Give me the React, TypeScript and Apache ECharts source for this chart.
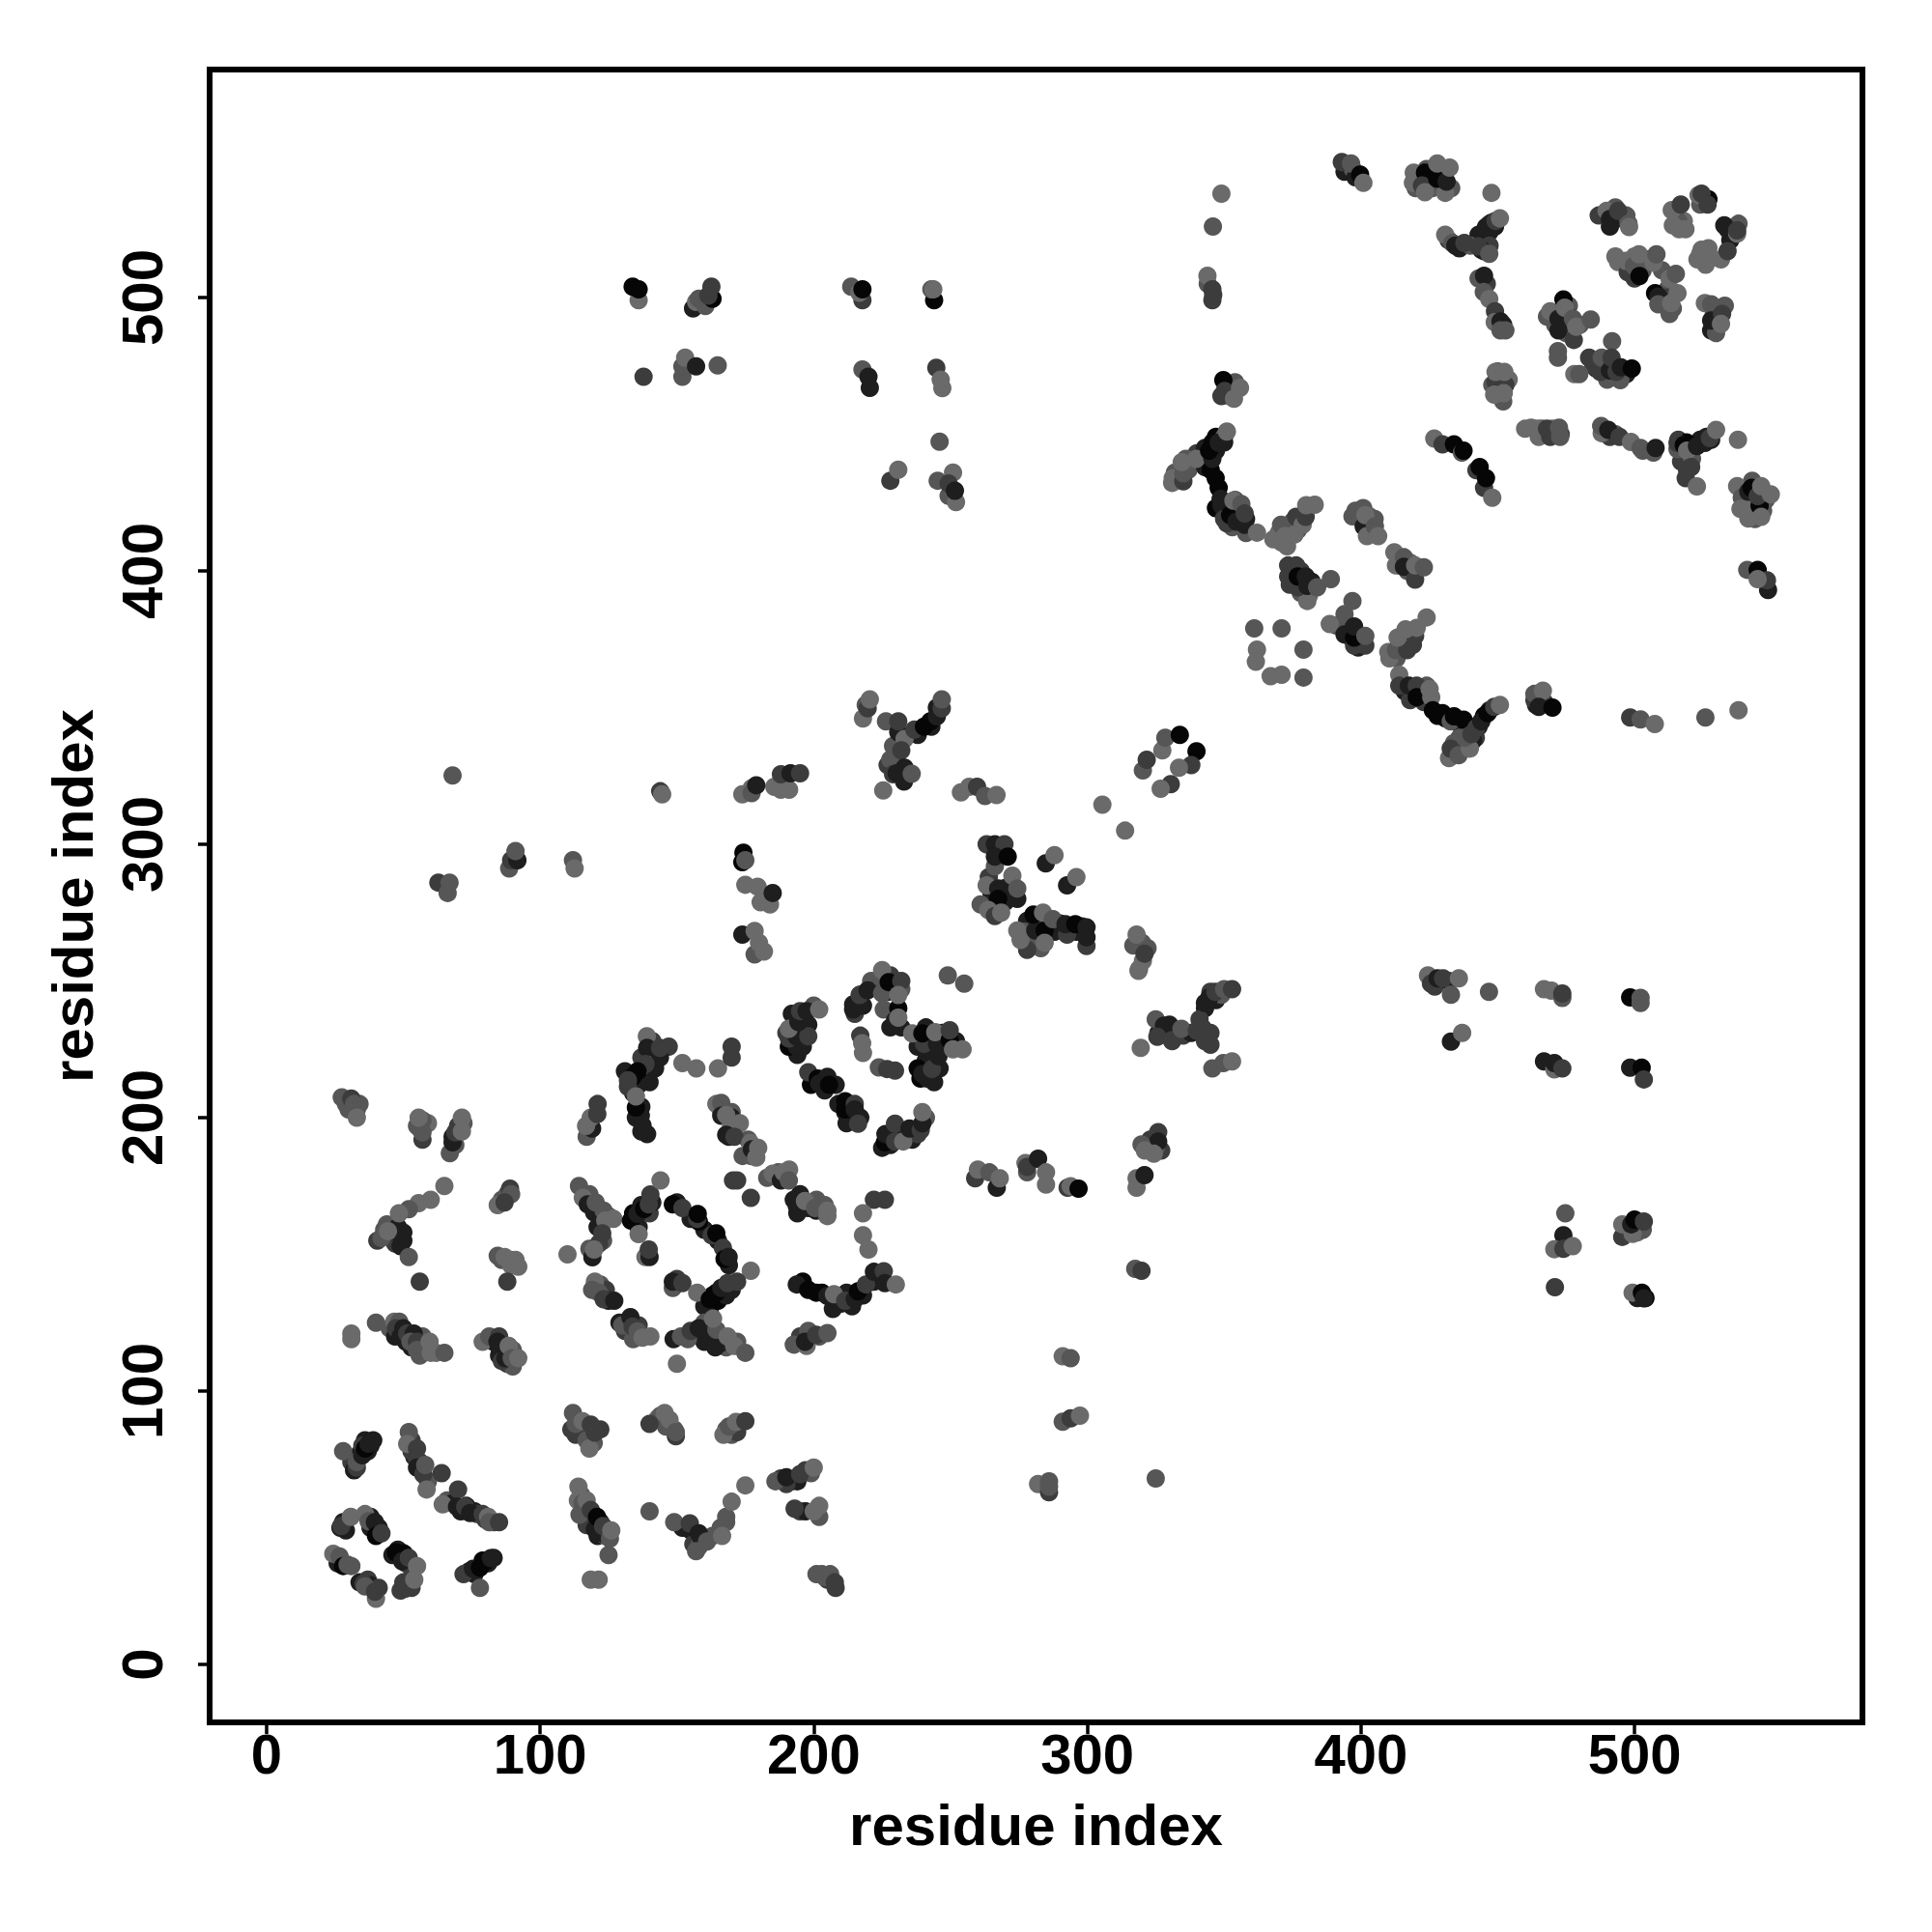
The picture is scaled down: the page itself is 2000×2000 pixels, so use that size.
import React, { useEffect, useRef } from "react";
import * as echarts from "echarts";

// Each contact: [residue i, residue j, shade index]
type P = [number, number, number];
const shades = ["#6a6a6a", "#565656", "#3c3c3c", "#1e1e1e", "#060606"];
const tickValues = [0, 100, 200, 300, 400, 500];
const axisTitle = "residue index";

const bottomLeft: P[] = [
  [31,121,0],[31,119,0],[40,125,1],[46.7,125.4,0],[48.5,125.4,1],[47.3,123,2],[50,123,3],[49,120,3],[51.4,121,2],[53.8,121,3],[52.6,118,1],[55,118,2],[55,115,1],[59.6,118,0],[60,114,0],[65,114,1],
  [79,118,0],[81.4,120,1],[85,120,2],[84.4,118,3],[86,111,2],[87.3,112,3],[88.5,116.5,0],[89.6,112,1],[92,112,0],
  [33,72,2],[33,74,1],[28,78,1],[35,80,2],[35,76.5,3],[36,79,4],[37.3,80.7,3],[39,82,3],
  [52,85,1],[51.4,80.7,0],[55,79,2],[55,75,2],[55,72,3],[57.3,69.5,2],[58,73,1],[64,70,2],[58.5,64,0],
  [70,64,2],[64.4,58.6,0],[69.6,57.7,3],[72.6,57.7,2],[74.4,55.4,3],[79,55,2],[81,54,0],[81.4,52,1],[85,52,2],
  [27,50,3],[27.3,50.6,2],[30.8,54,0],[36,55,0],[37.3,52.4,1],[39.6,52,3],[40,47,4],[42,48,2],
  [47.3,41,4],[50.2,40.6,4],[49.6,37.7,3],[52,39,2],[55,36,0],[50.8,27.7,2],[49,27,2],[54,31,0],
  [24.4,40.5,0],[26.7,39.5,1],[28,36,4],[29.6,36.5,1],[35.5,29.5,2],[36,28.5,1],[40,24,0],[39.6,26.6,2],
  [72,33,2],[75.5,35,3],[78,35.4,4],[80,37.7,4],[82,38.9,3],[78,28,1],
  [111.4,86,2],[112,92,1],[113,88,1],[115.5,89,0],[119.6,81,1],[118,79,0],[120,84.8,2],[118.5,87.7,2],
  [140,88,2],[145.5,92,0],[147.3,89.5,0],[149.6,83.5,2],[149.6,85,1],
  [114,65,0],[113.8,60,0],[115.5,59,1],[114.4,54.8,1],[117,60,0],[118.5,56.5,2],[120,49.5,3],[120.8,54,4],[123,50.6,2],[125.5,46,1],[126,49,0],[125,40,1],
  [118.5,31,0],[121.4,31,0],[140,56,1],[149,52,1],
  [154.7,51.6,2],[158,48,3],[157,41.4,1],[161,45,1],[166.5,47,0],[168,54,1],[170,59.5,0],[175,65.5,0],
  [186,67,1],[190,68.5,3],[195,69.6,2],[200,72,0],[193,57,2],[200,56,0],
  [201,33,1],[204,32,1],[207.7,30,2],
  [167,84,0],[169,87,1],[171.6,88.7,0],[175,89,2],
];

const lowerMiddle: P[] = [
  [27.5,207.4,1],[31,207,2],[32,205,1],[33,200,0],
  [57,192,2],[57,194.6,1],[55.6,200,0],[67,187,1],[68,191,3],[69,194.6,2],[71.4,195,0],[71.4,200,0],
  [65,175,0],[60,170,0],[55.6,168.7,0],[52,166.5,1],[48.4,165,0],[40.5,155,2],[46.6,158.5,3],[42,156,1],[44.4,158.5,0],[50,155,3],[52,149,1],[56,140,2],
  [89,174,2],[89.4,172,1],[84.5,168,0],[87,169,2],[84.5,149.5,1],[87,149,0],[89.4,146,0],[92,145.5,0],[88,140,2],
  [114.2,175,1],[115.6,170.7,0],[117.4,168.3,3],[119.7,165.4,3],[120.3,169,1],[123.2,166,1],[123.8,162.4,0],[126.8,163,0],[122.7,157.7,2],[121.5,154,2],[119.1,148.9,3],[119.7,151.8,0],[110,150,0],
  [133.2,162.4,4],[135.6,164.8,3],[138,166.6,4],[139.7,168.3,2],[140.3,171.9,2],[144,177,0],[136,157.4,0],[138.5,149,0],[140,149,3],[139.7,151.8,2],
  [148.5,168.3,4],[152,167,2],[157.4,163,2],[157.6,164.8,4],[162.7,157,2],[164.4,157.7,4],[166.8,152.4,2],[167.4,148.3,4],[168.9,149,3],[177,144,0],
  [148.5,137.7,1],[148.5,140,3],[152,139.5,2],[157.4,136,0],[162,133.6,4],[164.4,136,4],[166.2,137.7,3],[168.5,139.5,2],[172,140,2],
  [120,140,0],[119,137,1],[121.5,136,1],[123.2,133.6,2],[127.1,133,3],[133,127,3],[133.8,123.6,2],[135.6,121.8,1],[137.4,119.5,0],[140.3,120,0],
  [148.8,119,3],[151.5,120,1],[155,122,2],[158,123,3],[162.7,120,3],[166.2,117.7,3],[164.4,122.4,1],[163.2,126.5,0],[168.5,120,0],[170.9,116.5,0],[175,114,1],[150,110,0],
  [193.8,139,3],[198,137,4],[200.9,136,4],[205,134.8,3],[207.4,135.4,0],[211.5,133,2],[215,133.6,3],[216.2,136.5,4],[219.1,139,2],[222,143.6,3],[225.6,143.8,2],[226,139.5,3],[230,139,0],
  [192.7,117,1],[197.4,116.5,0],[196.8,118,3],[200.9,120.6,2],[205,121.2,1],
  [222,170,2],[226,170,2],[218,165,0],[218,157,0],[220,151.8,0],[170.5,177,2],[172,177,2],[177,170.7,2],
  [164.4,205,0],[166.2,205.4,1],[166.2,200.7,3],[168,201,0],[169.7,197.8,0],[168,193.7,3],[171,193,2],
  [176.8,190.7,0],[177.4,188.4,3],[179,185.4,0],[179.7,189,0],[185,179.5,0],[188,177,3],[189,180,0],[190.9,177,1],
  [192.7,170,3],[193.8,167.8,3],[196.8,169.5,0],[200.9,166,3],[200.5,167,1],[205,164,0],[205,166,0],
  [117,193,1],[119,196,3],[116.8,197,0],[118.5,200,0],[120.9,201.3,2],[121,205,2],
  [139,229.8,0],[139.1,225.5,3],[143.8,222,3],[143.8,225.5,2],[138.5,219.6,2],[135.6,217,4],[133.8,214.9,4],[132.1,211.3,2],[132.1,213.7,2],
  [139.1,194,3],[137.4,197.2,3],[136.8,200.7,3],[135,203.7,4],[135,207.8,0],
  [152,220,0],[157.1,218,0],[165,218,0],[170,222,2],[170,226,2],
];

const blossom: P[] = [
  [190.9,226,4],[193.8,226,3],[190.9,229,2],[193.8,229.6,3],[198,229.8,2],[190.9,232.5,0],[194.4,235,3],[195,239,2],[197.4,239,3],[202,239.6,0],
  [198,216.6,2],[201.5,214.3,4],[202,212.5,3],[205,214.9,3],[205.6,212,4],
  [211.5,202,3],[211.5,203,4],[211.5,206,4],[215,205,2],[215,203,3],[216.2,197.8,2],
  [226,191,4],[226.2,194,3],[229.7,197.8,2],[229.7,191.3,2],[232.7,191.3,0],[235,196,3],[239.1,195.4,2],[239.7,198,3],[239.7,202,0],
  [214.4,239.6,3],[214.4,241.4,3],[216.8,244.9,2],[219.7,246.6,3],[224.4,251.4,1],[225,254,0],[225,245.5,1],[225.6,239.6,1],[227.4,249.6,4],[232,250,2],
  [229.7,235.5,3],[230.9,240,4],[230.9,236.6,0],[230.9,244.9,0],
  [217,230,2],[217.7,227.2,0],[218,223.7,0],[223.8,218.4,1],[226.8,217.8,2],[229.7,217.2,2],
  [249,252,1],[255,249,1],
  [239,214.3,4],[241.5,214.3,3],[239.7,216,3],[243.2,217.8,2],[245.6,222.5,3],[240.3,227,2],[245,227,3],[236,230.8,0],[239.7,230.8,4],[244.4,231.3,0],[249.7,228.4,4],[249.7,232,2],[250.9,225,0],[254.4,225,0],
];

const centre: P[] = [
  [218,346,0],[219.7,349.7,2],[220.5,353,0],[226.4,345,1],[230.9,341,3],[230.9,345,2],[233.2,338.5,0],[236.8,342,2],[240.3,343,4],[242.6,345,4],[245,346.8,3],[246.8,349.7,2],[246.8,353,1],
  [228,331,1],[232,334.4,2],[229,325.6,2],[230.3,326,3],[233.2,328,3],[235.8,325.8,1],[225.4,319.7,0],
  [185.6,321,0],[188,320,0],[191,320,0],[188,325.6,2],[191.5,326,3],[195,326,2],
  [253.8,319,0],[256.8,321,0],[259.7,321,2],[262.6,317.7,1],[266.8,318,0],
  [305.5,314.5,0],[313.8,305,0],
  [266.2,292,1],[263.2,300,2],[266.2,300,3],[269.7,300,2],[266.2,295.5,3],[270.9,295.5,4],
  [284.8,293,3],[288,296,0],[292.6,285,3],[296,288,0],
  [261,278,1],[263.2,285,0],[267.4,283.8,3],[267.4,280,4],[263.8,276,0],[266.2,273.8,2],[268.5,275,0],[274.4,280,3],[272.6,288.5,0],[274.4,283.8,1],
  [278,261.4,2],[275.6,265,0],[274.4,268.5,0],[281,268.5,3],[284.4,268.5,4],[284.4,264,0],[280.3,274.3,4],[283.8,275,0],[287.4,272.6,1],
  [292.6,267,2],[292,270.8,3],[295.6,270.8,4],[299.7,262.8,2],[299.7,266,3],[299.7,269.6,3],
  [316.8,263,1],[318,267,0],[318.9,254.3,0],[320.3,257.3,0],[320.9,260,2],[318.7,253.7,0],
  [319.5,225.5,0],[325,236,1],[328,233.7,3],[325.6,229.6,2],[331,228,2],[330.9,228.4,2],[334.4,232.5,1],
  [340,231.8,2],[345,231,2],[345,226.7,2],[341,236,2],[343,242,3],[344.6,244,3],[346.8,246,2],[350,247,1],[352.9,247,2],
  [345.7,218,1],[349.7,220,1],[352.9,220.6,0],
  [424.5,252,0],[425.6,249,2],[428,251,3],[430,251,2],[435.8,251,0],[432.9,245,1],[446.8,246,1],[432.9,227.8,3],[437,231,0],
  [466.9,247,0],[469.6,246.5,0],[473.6,243.8,1],[473.6,245.4,2],[498.4,244,4],[502.2,242,1],[502.2,243.8,1],
  [466.9,220.6,3],[470.7,217.7,0],[470.7,220,3],[473.6,218,2],[498.4,218.3,3],[502.6,218.3,4],[503.4,214,2],
  [259,177.8,2],[260,181,0],[264.2,180,1],[266.9,174.4,3],[268,177.8,0],
  [277.4,183.4,0],[278,180,1],[278,182,2],[282,185,3],[284.9,175.5,0],[284.9,180,0],
  [292.8,174.4,2],[293.9,174.9,0],[296.8,174,4],
  [325.9,194.7,2],[325.9,191.3,3],[319.8,190.2,1],[321,188,0],[324.3,186.8,0],[318,174.4,0],[318,177.8,0],[320.9,179,3],
  [317.5,144.7,1],[319.8,144,2],[291,112.7,0],[293.9,112,1],[291,88.8,1],[293.9,90,2],[297.3,91,0],
  [282,66,0],[286,63,2],[286,65,1],[286,67,1],[325,68,1],
  [474.7,165,1],[474,157,3],[470.7,151.9,0],[474,152,2],[477.4,153,0],[470.9,138,2],
  [495.5,156.4,2],[495.5,161,0],[499.3,157.5,0],[498.8,161,3],[500,162.7,4],[503.4,162,2],
  [499.3,136,0],[502.7,136,4],[503.4,133.9,3],
];

const upperRight: P[] = [
  [393,549.6,2],[396.4,549,1],[399.7,545,4],[400.9,542,0],
  [419,542,0],[419.3,545.7,0],[423.4,545.7,4],[422.3,541,2],[423.4,538.5,0],[430.8,538.3,0],[427.9,543.5,4],[431.3,542.4,3],[427.9,549,0],[432.4,547.5,0],
  [447.7,538.3,0],[349,538,0],[345.9,526,1],[343.9,508,0],[345.7,499,2],[345.7,503,2],
  [349.7,469.8,4],[350.2,465.8,2],[353.6,463,0],[355.8,467,0],
  [445.7,525.8,3],[448,527.5,3],[449.2,528,2],[450.8,529,0],
  [430.8,523,0],[433.4,520,1],[434.5,519,3],[437.8,520,2],[444,517.5,3],[442.8,518.7,2],[446.9,516,1],
  [443,507,1],[445,508,3],[444.9,502,1],[446.9,499.5,0],[449,495,2],[448.9,491,0],[451,491.3,3],[451,488,1],[452.8,488,1],
  [452,462,1],[449.2,469.2,2],[452.8,468,2],[448.7,464.5,0],[452.2,465,0],[449.2,472.8,0],[452.4,472.8,0],
  [465,449,0],[462.2,452.4,0],[464.5,452,0],[469.2,449,2],[468,452,2],[472.8,449,1],[472.4,452.4,1],
  [488,450.4,0],[487.8,453,1],[490.4,451.6,3],[494.5,449,2],[498.7,447.2,0],[502.2,445,1],[506.9,443.3,1],[507.7,445,3],
  [515.7,444.5,1],[515.7,446.8,2],[518,446,4],[519.2,444,0],[522.8,445.7,3],[525.7,446.8,3],[526.3,449,3],[527.5,448.6,2],[529.8,451.6,0],[537.8,448,0],
  [518.7,433.9,2],[519.2,436.8,2],[520.7,438,2],[522.8,430.9,0],
  [537.5,431,0],[539.2,426.8,1],[538.7,422.7,0],[541.6,419.2,0],[541.6,422.7,0],[541.6,429,3],[542.8,430.4,4],[545.7,423.9,4],[545,427.4,2],[546.3,419.8,0],[546.3,431,0],[549.8,428,0],
  [541.2,400.4,1],[545,400.4,4],[548.8,393,3],[548.4,396.6,2],[545,397,0],
  [426.8,448.4,0],[429.8,446.3,2],[434,446.3,4],[436.9,443.3,1],[437.5,444,4],[442.2,436.8,2],[445,430.4,2],[443.4,438,4],[445.7,433.9,4],[448,426.8,0],
  [469.2,495,0],[472.2,488,3],[472.2,492.2,3],[474,499.3,4],[474.5,496.3,0],[477.5,492.2,1],[477.8,484.5,2],[478.7,489.3,0],[484,492,1],[491.8,484,1],
  [472,480.4,1],[472,478,1],[478,472,0],[479.8,472,1],
  [483.4,478,2],[487.5,472.8,2],[488,478,1],[494.8,469.8,1],[491,473.3,3],[491.6,478,2],[493.4,472.8,2],[495,474.5,3],[499,474,4],
  [486.9,530,2],[489.8,531.7,0],[491,528.7,3],[494,531.7,2],[497.8,527,1],[498,525.8,0],
  [494,513,0],[497.5,509.3,2],[496.9,513.4,0],[499.8,511.6,1],[501.8,507.9,4],[501.6,515.8,0],[506.9,512.8,0],[508,515.8,1],
  [512.8,506.9,0],[515.1,508.7,1],[507.5,501.6,4],[508.7,500.4,3],[508.7,497.5,1],[512.8,494,1],[513.4,498,0],[515.7,501.6,0],
  [513.6,532,0],[516.9,534,2],[523.4,537.5,0],[524.5,538,2],[526.7,534,2],
  [532.8,526.4,3],[537.5,523.4,0],[537.5,524.6,2],
  [514,526.4,0],[516.3,525,0],[518.6,525,0],
  [531.6,514,0],[534,517,2],[524,516,0],[524.5,517.5,0],[525.7,514.6,0],
  [525.7,498,0],[528,497.5,1],[529.8,487,1],[528,491.6,3],[532,494,2],[531.6,490.4,0],
];

const diagonal: P[] = [
  [331,432.2,0],[331.2,433.9,0],[335.1,432.8,2],[335.1,435.7,1],[334.5,439.8,0],[339.8,441,0],[345.1,436.9,4],[346.9,433.9,4],[348,430.4,4],[348.7,426.3,3],[345.7,441,3],[344.5,444,4],[345.7,446.9,4],[348,446.9,3],[351,451,0],
  [351,417.4,2],[352.2,420.4,4],[353.4,425.7,0],[354.5,418,3],[356.3,424.5,1],[358,413.9,1],[357.5,416.9,3],[357.5,421,2],[362,414,0],
  [368,411.6,0],[371,410.4,0],[370.8,416.9,1],[372.2,412.7,0],[375.7,413.3,0],[376.3,419.8,2],[378.7,416.9,0],[379.8,419.8,2],[380,424,0],[383.1,424.2,0],
  [373.4,398,2],[373.4,402,2],[376.3,402,2],[380.4,389,0],[376.9,394,2],[376.9,398,4],[379.8,398,3],[380.4,394.5,3],[384,394,1],[389,397,1],
  [396.9,420,1],[400.8,423,1],[401,416.3,3],[401.6,420.4,0],[402.2,412.7,0],[405.1,416.3,1],[406.3,412.7,0],
  [412.2,406.8,0],[412.8,402,0],[415.7,405,1],[415.7,401.5,3],[419.8,396.8,2],[419.8,402,0],[423,401.3,1],
  [396.9,389,1],[394,384.2,1],[388.6,380.6,0],[394,376.8,3],[397.5,372.7,2],[401.6,372.7,2],[397.5,375.6,4],[397.5,379.7,3],[401.6,376.2,1],
  [410.4,368,0],[410,370.3,0],[412.8,371,1],[416.9,371,2],[413.4,375.6,0],[419.8,376.2,2],[416.3,378.6,0],[420.4,379.2,0],[424,383,0],
  [414,362,0],[414,358,2],[418,352.7,2],[417.5,358,3],[420.4,358,2],[420.4,353.8,4],[425.1,356.8,0],[425.7,353.8,0],
  [426.3,349,4],[429.8,348,4],[432.8,345,1],[434,346.8,4],[437.5,345.6,4],
  [432.2,331.5,0],[432.8,335,2],[435.1,334.4,2],[435.7,332.6,1],[439.8,335,0],[438,339,1],[440.4,340.3,2],[442.2,342.6,2],[444,345,3],[446.3,348,4],[448.7,350.3,2],[450.8,351,0],
  [463.4,352.7,2],[463.4,355,1],[466.5,356.2,0],[465,350.3,3],[470,350,4],
  [498.4,346.4,2],[502.2,345.7,1],[507.4,344,0],[525.9,346.4,1],[538,349,0],
  [361,379,1],[371,379,1],[362,371.2,0],[361.6,366.8,0],[379,371.2,1],[367,361.5,0],[371,362,0],[379,361,1],
  [320.3,327,1],[321.7,330.9,2],[327.4,334.4,0],[328.5,339,1],[333.8,340,4],[339.9,334,4],[338,329,2],[333.5,328,0],[330.5,322,2],[326.8,320.3,0],
];

const upperLeft: P[] = [
  [136,499,0],[133.8,504,4],[136,503,4],[137.8,471,2],
  [155.9,496,3],[157,498.4,0],[158,499.6,1],[160.4,496.9,1],[163,499.6,4],[161.5,500.7,2],[162.6,504,2],
  [152,471,1],[152,474.8,1],[153,478,0],[157,474.8,3],[164.9,475.2,1],
  [217.8,499,2],[213.7,504,1],[216.7,501.8,0],[217.8,503,4],[244,499,4],[243,503,1],[243.7,503,0],
  [217.8,473.7,1],[220,471,3],[220.5,467,3],[244.8,474.3,2],[246.4,470,0],[247,466.9,0],
  [246,447.3,1],[228,433,2],[230.9,437,0],[245.3,433,1],[249.3,427.5,1],[252,425.2,0],[250.9,436,0],[249.3,432,2],[251.6,429.3,3],
  [68,325.2,1],[143.9,319.4,2],[144.6,318.3,0],[173.9,318.3,0],[177.3,320.5,0],[177.3,318.7,1],[179,321.6,3],
  [173.9,293.5,4],[174.3,296.9,4],[175,294.2,1],[62.8,286,2],[66.2,282.2,1],[66.9,286,1],
  [88.7,291.2,1],[89.4,294.2,2],[91.7,294.2,3],[91,297.5,1],[112,294.2,1],[112.6,291.2,0],
  [175,285.2,0],[179.5,284.5,0],[180.6,278.8,0],[184,278,0],[185,282.2,3],
  [173.9,267,3],[178.4,268.3,0],[178.4,259.7,1],[180,264,0],[181.8,260.8,0],
];

// Contacts mostly hidden under the ones above; they thicken the dense bands.
const hiddenLower: P[] = [
  [37,78,3],[34,77,3],[36,82,3],[38,80,3],[31,74,2],[32,71,3],[53,82,2],[54,76,3],[56,74,3],[57,71,3],[59,67,1],[53,78,2],
  [66,60,1],[68,59,3],[71,56,3],[73,58,3],[76,56,3],[77,55,2],[83,52,2],[80,53,2],[28,52,3],[29,49,3],[38,50,3],[41,50,3],[38,54,3],
  [46,40,3],[48,42,3],[51,37,3],[53,35,2],[50,30,2],[53,28,2],[26,37,3],[27,38,3],[31,36,1],[34,30,3],[37,31,2],[38,29,3],[41,28,2],
  [74,34,3],[76,33,3],[79,38,4],[81,37,3],[83,39,3],[45,123,1],[47,120,3],[51,118,3],[53,116,3],[57,115,1],[57,120,1],[62,114,0],[56,113,1],
  [83,118,3],[85,116,3],[87,115,2],[85,113,3],[90,115,1],[88,110,2],[90,109,1],[116,85,2],[118,85,3],[115,85,1],[113,84,2],[117,82,1],[122,86,2],
  [143,90,0],[146,87,1],[149,86,1],[144,91,1],[168,86,1],[170,84,1],[172,85,2],[115,62,1],[116,57,1],[118,54,3],[119,52,3],[122,52,3],[121,47,3],[124,47,1],[123,48,3],[122,49,3],[117,51,2],
  [152,50,3],[155,49,3],[156,44,2],[158,43,1],[159,46,3],[163,47,1],[166,50,1],[168,52,1],[188,68,2],[192,67,3],[194,67,3],[197,71,2],[199,70,1],[190,66,2],
  [195,56,2],[197,56,3],[202,54,1],[202,58,0],[205,31,2],[206,33,1],[203,33,1],[208,28,2],
  [56,196,1],[59,198,0],[57,199,1],[55,197,1],[68,193,3],[70,197,2],[72,198,1],[69,190,1],[29,205,1],[30,203,1],[33,203,1],[34,205,1],
  [44,161,1],[48,160,3],[50,158,3],[47,154,2],[49,153,3],[43,159,1],[86,170,1],[88,172,1],[86,148,1],[89,148,1],[91,148,0],
  [118,172,1],[120,166,3],[122,164,3],[125,164,1],[121,160,3],[123,155,1],[118,152,1],[134,165,4],[136,160,3],[137,168,3],[135,163,3],[140,165,2],[141,169,3],
  [150,169,3],[155,163,3],[160,159,3],[158,162,4],[165,155,3],[169,146,3],[160,131,3],[162,129,3],[165,133,4],[168,135,3],[163,135,4],[170,137,3],[150,141,2],
  [122,139,1],[124,137,2],[125,133,3],[129,125,3],[131,122,2],[134,119,1],[130,124,1],[136,124,2],[160,118,3],[165,119,3],[168,116,1],[172,118,1],[154,119,1],[160,125,1],[161,122,3],[164,116,3],
  [196,140,4],[203,136,4],[207,130,3],[214,131,3],[218,135,3],[222,140,3],[212,136,3],[210,132,3],[224,142,3],[195,120,2],[198,122,1],[202,120,1],
  [134,209,3],[136,212,3],[131,217,3],[140,213,3],[142,218,3],[137,222,2],[141,228,2],[147,226,2],[135,200,3],[137,204,3],[137,195,3],
  [166,203,1],[170,202,1],[170,200,3],[169,193,3],[173,198,0],[174,186,1],[176,192,1],[177,186,1],[183,178,1],[187,180,1],[190,178,2],[191,181,0],[195,172,3],[194,165,3],[198,167,3],[201,170,1],[204,168,1],
  [192,238,3],[196,236,3],[198,234,3],[192,232,2],[196,226,3],[190,231,2],[200,241,1],[194,223,3],[199,212,4],[204,210,3],[208,212,3],[209,205,3],[213,200,3],[212,198,3],[217,200,3],[225,189,3],[228,190,3],[232,195,3],[236,192,3],[238,194,2],[241,200,1],
  [217,245,3],[221,248,3],[215,238,2],[218,241,3],[221,250,1],[227,246,3],[224,248,2],[228,252,2],[228,233,3],[232,233,3],[232,247,1],[238,226,3],[241,221,3],[243,224,3],[246,218,3],[238,218,4],[247,231,3],[241,233,3],[252,228,3],[244,213,3],[242,230,2],
];

const hiddenUpper: P[] = [
  [219,351,1],[238,340,3],[243,343,3],[245,350,3],[231,329,3],[233,323,3],[227,329,2],[229,336,1],[266,298,3],[268,296,4],[264,288,2],[270,284,3],[272,281,3],[268,277,1],[270,279,3],[265,282,3],
  [278,272,3],[282,272,3],[285,272,2],[280,266,2],[283,262,1],[277,268,1],[288,268,3],[290,271,3],[296,268,3],[298,270,3],[279,263,1],[320,264,1],[322,262,1],[321,190,3],[323,192,2],[327,188,2],[325,189,1],
  [326,231,3],[330,234,3],[335,230,2],[338,231,3],[343,240,3],[342,233,2],[345,246,2],[347,243,3],[349,245,1],[343,228,2],[427,248,2],[432,250,3],[499,160,3],[497,158,1],[501,158,0],[503,159,1],[501,134,3],[504,134,4],
  [420,540,1],[425,543,3],[424,547,1],[429,546,3],[426,540,1],[433,540,1],[394,546,3],[397,547,1],[398,544,3],[346,501,2],[344,505,1],[352,464,1],[354,469,1],[349,464,2],[353,468,1],
  [443,523,3],[445,521,3],[447,524,3],[449,526,3],[447,527,2],[446,520,3],[436,518,3],[432,521,2],[440,519,1],[445,517,3],[447,519,2],[446,505,2],[450,492,1],[452,490,3],
  [448,468,1],[451,470,2],[454,470,0],[450,473,1],[450,466,1],[466,452,1],[470,452,0],[465,451,0],[470,450,1],[473,450,2],[460,452,0],[503,444,1],[493,450,1],[491,449,2],
  [517,440,2],[521,444,3],[516,448,2],[524,448,3],[528,448,3],[519,447,4],[521,441,1],[543,425,3],[547,422,1],[540,425,1],[544,419,1],[543,433,1],[540,429,1],[548,426,1],
  [476,497,1],[471,490,1],[474,490,3],[476,493,3],[473,494,3],[475,487,1],[480,490,1],[468,493,1],[486,476,2],[489,476,1],[492,476,3],[486,474,3],[490,470,1],[497,472,3],[485,475,2],
  [493,533,1],[495,529,3],[491,526,3],[497,530,1],[498,513,1],[500,507,2],[503,510,1],[510,510,1],[500,515,0],[493,515,0],[505,514,1],[510,498,3],[512,503,1],[511,500,2],[514,496,1],
  [525,535,3],[527,536,4],[524,534,1],[534,525,3],[535,521,3],[538,527,1],[518,528,0],[516,528,1],[526,512,0],[527,518,0],[523,514,0],[529,494,1],[530,490,1],[533,497,1],[528,488,3],
  [340,443,2],[342,440,1],[337,437,1],[343,445,3],[347,444,3],[349,448,2],[347,449,4],[350,449,1],[343,438,3],[350,447,3],[334,435,3],[336,441,1],[332,436,1],
  [347,423,4],[349,424,3],[352,423,3],[355,419,3],[353,416,1],[350,420,3],[358,419,3],[354,426,1],[350,419,2],[374,413,1],[373,409,0],[377,415,1],[375,418,1],[370,414,0],[378,420,0],
  [378,400,2],[374,395,2],[382,396,3],[378,392,1],[381,391,0],[398,422,1],[402,418,1],[403,414,0],[405,419,1],[403,420,1],[414,402,1],[417,400,1],[418,403,0],
  [395,380,3],[396,376,3],[399,376,3],[391,380,1],[399,372,3],[417,375,1],[419,373,2],[414,374,1],[413,368,1],[421,355,3],[423,354,4],[419,355,3],[424,358,1],[423,352,2],[416,356,3],
  [428,347,4],[431,346,4],[436,344,3],[440,343,3],[442,339,2],[445,347,4],[447,349,3],[443,343,3],[441,338,3],[436,339,1],[434,337,1],[464,351,3],[467,352,2],
];

const allPoints = [...hiddenLower, ...hiddenUpper, ...bottomLeft, ...lowerMiddle, ...blossom, ...centre, ...upperRight, ...diagonal, ...upperLeft];

export default function App() {
  const ref = useRef<HTMLDivElement>(null);
  useEffect(() => {
    const chart = echarts.init(ref.current!, undefined, { renderer: "svg" });
    const font = { fontFamily: "Liberation Sans", fontWeight: "bold" as const, color: "#000" };
    const tick = { show: true, length: 12, lineStyle: { width: 3.5, color: "#000" }, customValues: tickValues };
    chart.setOption({
      animation: false,
      backgroundColor: "#fff",
      grid: { left: 217, top: 72, width: 1711, height: 1711, show: true, borderColor: "#000", borderWidth: 6, backgroundColor: "transparent" },
      xAxis: {
        type: "value", min: -20.8, max: 583.3, splitLine: { show: false },
        axisLine: { show: true, onZero: false, lineStyle: { color: "#000", width: 1 } },
        axisTick: tick,
        axisLabel: { ...font, fontSize: 58, margin: 3, customValues: tickValues },
        name: axisTitle, nameLocation: "middle", nameGap: 76, nameTextStyle: { ...font, fontSize: 60 },
      },
      yAxis: {
        type: "value", min: -21.2, max: 583.4, splitLine: { show: false },
        axisLine: { show: true, onZero: false, lineStyle: { color: "#000", width: 1 } },
        axisTick: tick,
        axisLabel: { ...font, fontSize: 60, margin: 70, rotate: 90, customValues: tickValues, verticalAlign: "middle", align: "center" },
        name: axisTitle, nameLocation: "middle", nameGap: 112, nameRotate: 90, nameMoveOverlap: false, nameTextStyle: { ...font, fontSize: 60 },
      },
      series: [{
        type: "scatter", symbol: "circle", symbolSize: 19, silent: true,
        data: allPoints.map(([x, y, s]) => ({ value: [x, y], itemStyle: { color: shades[s], opacity: 1 } })),
      }],
    });
    return () => chart.dispose();
  }, []);
  return <div ref={ref} style={{ position: "absolute", left: 0, top: 0, width: 2000, height: 2000, background: "#fff" }} />;
}
